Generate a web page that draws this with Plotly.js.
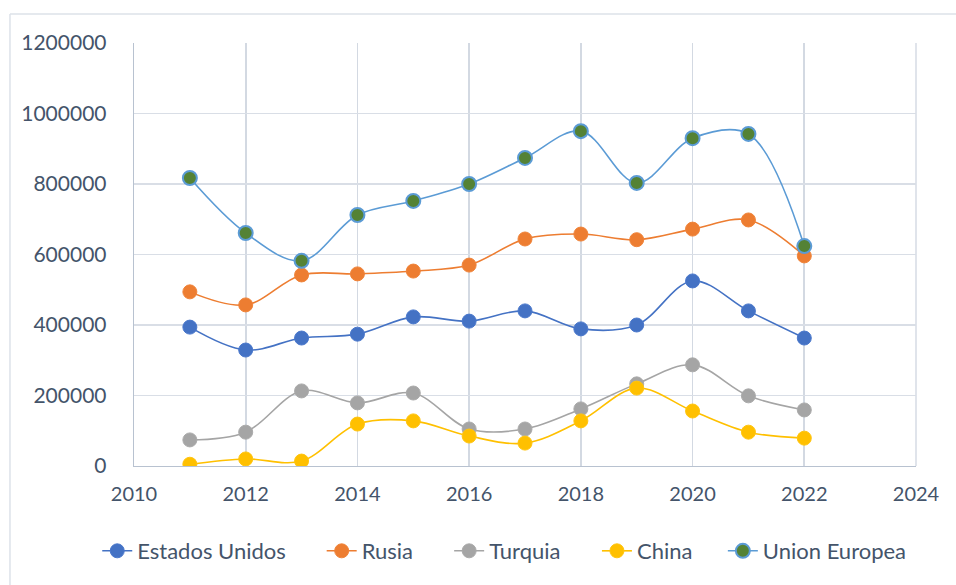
<!DOCTYPE html>
<html>
<head>
<meta charset="utf-8">
<script src="https://cdn.plot.ly/plotly-3.0.1.min.js"></script>
<style>
html,body{margin:0;padding:0;background:#fff;}
#chart{width:956px;height:585px;}
</style>
</head>
<body>
<div id="chart"></div>
<script>
const years = [2011, 2012, 2013, 2014, 2015, 2016, 2017, 2018, 2019, 2020, 2021, 2022];
const estadosUnidos = [394000, 329000, 363000, 374000, 423000, 411000, 440000, 389000, 400000, 525000, 440000, 363000];
const rusia = [494000, 457000, 542000, 545000, 553000, 570000, 644000, 658000, 642000, 672000, 698000, 596000];
const turquia = [74000, 96000, 213000, 179000, 207000, 105000, 105000, 162000, 233000, 287000, 199000, 159000];
const china = [5000, 20000, 14000, 119000, 128000, 85000, 65000, 128000, 221000, 156000, 96000, 79000];
const unionEuropea = [817000, 661000, 582000, 712000, 752000, 800000, 874000, 950000, 803000, 930000, 942000, 624000];
const seriesNames = ["Estados Unidos", "Rusia", "Turquia", "China", "Union Europea"];
const yTicks = [0, 200000, 400000, 600000, 800000, 1000000, 1200000];

const lineColors = ["#4472C4", "#ED7D31", "#A5A5A5", "#FFC000", "#5B9BD5"];
const fillColors = ["#4472C4", "#ED7D31", "#A5A5A5", "#FFC000", "#548235"];
const borderColors = ["#4A78CC", "#F0843A", "#ABABAB", "#FFC511", "#5B9BD5"];
const borderWidths = [1, 1, 1, 1, 2];
const allData = [estadosUnidos, rusia, turquia, china, unionEuropea];
const legendIds = ["legend", "legend2", "legend3", "legend4", "legend5"];
const legendX = [-0.047, 0.240, 0.403, 0.592, 0.753];

const traces = allData.map((vals, i) => ({
  type: "scatter",
  mode: "lines+markers",
  name: seriesNames[i],
  legend: legendIds[i],
  x: years,
  y: vals,
  line: {color: lineColors[i], width: 1.6, shape: "spline", smoothing: 1},
  marker: {color: fillColors[i], size: 14, line: {color: borderColors[i], width: borderWidths[i]}}
}));

const textColor = "#44546A";
const gridColor = "#D9DEE6";
const layout = {
  width: 956,
  height: 585,
  margin: {l: 134, r: 40, t: 43, b: 119},
  paper_bgcolor: "#ffffff",
  plot_bgcolor: "#ffffff",
  font: {family: "Lato, 'Open Sans', sans-serif", size: 20, color: textColor},
  showlegend: true,
  xaxis: {
    range: [2010, 2024],
    tickmode: "linear",
    tick0: 2010,
    dtick: 2,
    showgrid: true,
    gridcolor: "#D3D9E2",
    gridwidth: 1.8,
    showline: true,
    linecolor: "#B8C2D0",
    linewidth: 1.3,
    zeroline: false,
    ticks: "",
    ticklabelstandoff: 10,
    tickfont: {size: 20, color: textColor}
  },
  yaxis: {
    range: [0, 1200000],
    tickmode: "array",
    tickvals: yTicks,
    ticktext: yTicks.map(String),
    showgrid: true,
    gridcolor: gridColor,
    gridwidth: 1.4,
    showline: true,
    linecolor: "#B8C2D0",
    linewidth: 1.3,
    zeroline: false,
    ticks: "",
    ticklabelstandoff: 22,
    tickfont: {size: 21, color: textColor}
  },
  shapes: [
    {type: "line", xref: "paper", yref: "paper", x0: 1, x1: 1, y0: 0, y1: 1, layer: "below", line: {color: gridColor, width: 1.6}},
    {type: "line", xref: "paper", yref: "paper", x0: -0.1586, x1: 1.06, y0: 1.0686, y1: 1.0686, line: {color: "#DDE2E9", width: 1.5}},
    {type: "line", xref: "paper", yref: "paper", x0: -0.1586, x1: -0.1586, y0: 1.0686, y1: -0.3, line: {color: "#DDE2E9", width: 1.5}}
  ]
};
legendIds.forEach((id, i) => {
  layout[id] = {
    orientation: "h",
    x: legendX[i],
    xanchor: "left",
    y: -0.201,
    yanchor: "middle",
    bgcolor: "rgba(0,0,0,0)",
    borderwidth: 0,
    font: {family: "Lato, sans-serif", size: 22, color: textColor}
  };
});

Plotly.newPlot("chart", traces, layout, {displayModeBar: false, staticPlot: true});
</script>
</body>
</html>
